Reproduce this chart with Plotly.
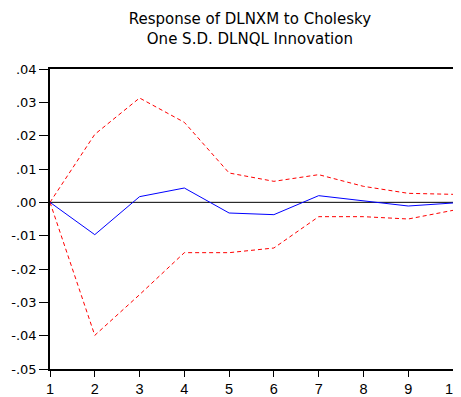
import plotly.graph_objects as go

periods = [1, 2, 3, 4, 5, 6, 7, 8, 9, 10]
response = [0.0, -0.0097, 0.0017, 0.0043, -0.0032, -0.0037, 0.0020, 0.0004, -0.0011, -0.0002]
upper = [0.0, 0.0204, 0.0313, 0.0240, 0.0088, 0.0063, 0.0083, 0.0048, 0.0027, 0.0024]
lower = [0.0, -0.0399, -0.0277, -0.0151, -0.0151, -0.0137, -0.0043, -0.0043, -0.0050, -0.0024]
y_ticks = [0.04, 0.03, 0.02, 0.01, 0.0, -0.01, -0.02, -0.03, -0.04, -0.05]
y_ticktext = [".04", ".03", ".02", ".01", ".00", "-.01", "-.02", "-.03", "-.04", "-.05"]

fig = go.Figure()
fig.add_trace(go.Scatter(x=periods, y=upper, mode="lines",
                         line=dict(color="#ff0000", width=1, dash="4px,3px"), showlegend=False))
fig.add_trace(go.Scatter(x=periods, y=lower, mode="lines",
                         line=dict(color="#ff0000", width=1, dash="4px,3px"), showlegend=False))
fig.add_trace(go.Scatter(x=periods, y=response, mode="lines",
                         line=dict(color="#0000ff", width=1), showlegend=False))

fig.add_shape(type="line", xref="paper", x0=0, x1=1, yref="y", y0=0, y1=0,
              line=dict(color="black", width=1), layer="below")

fig.update_layout(
    width=453, height=389,
    margin=dict(l=42, r=8, t=61, b=28),
    paper_bgcolor="white", plot_bgcolor="white",
    font=dict(family="DejaVu Sans, sans-serif", size=13, color="black"),
    title=dict(text="Response of DLNXM to Cholesky<br>One S.D. DLNQL Innovation",
               x=0.534, xanchor="center", y=0.958, yanchor="top",
               font=dict(size=15, color="black")),
    xaxis=dict(range=[1, 10], tickvals=periods, ticktext=[str(p) for p in periods],
               showgrid=False, zeroline=False, showline=True, linecolor="black", linewidth=1.5,
               mirror=True, ticks="outside", ticklen=6, tickcolor="black", tickwidth=1,
               tickfont=dict(size=14.5, family="Liberation Sans, Arial, sans-serif"),
               automargin=False, ticklabeloverflow="allow"),
    yaxis=dict(range=[-0.05, 0.04], tickvals=y_ticks, ticktext=y_ticktext,
               showgrid=False, zeroline=False, showline=True, linecolor="black", linewidth=1.5,
               mirror=True, ticks="outside", ticklen=9, tickcolor="black", tickwidth=1,
               tickfont=dict(size=13), automargin=False, ticklabeloverflow="allow"),
)

fig.write_html("out.html")
